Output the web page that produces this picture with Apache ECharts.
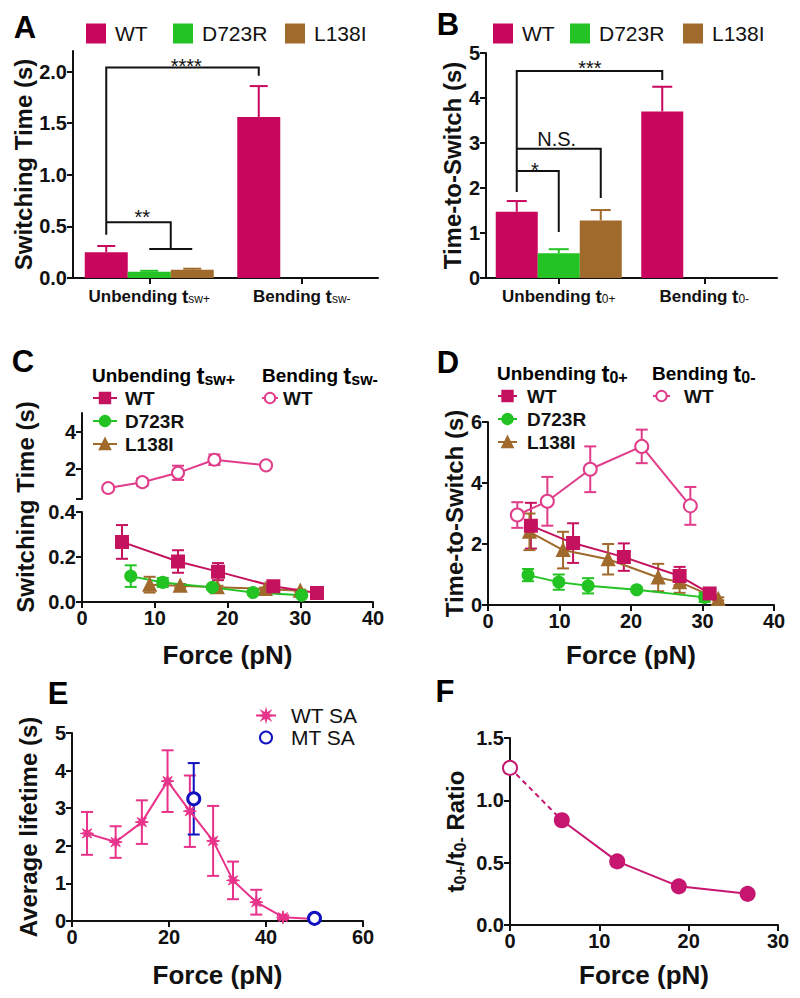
<!DOCTYPE html>
<html><head><meta charset="utf-8">
<script src="https://cdn.jsdelivr.net/npm/echarts@6/dist/echarts.min.js"></script>
<style>html,body{margin:0;padding:0;background:#fff}#c{width:800px;height:998px}</style>
</head><body><div id="c"></div>
<script>
// ===================== DATA =====================
// Panel A
const catsA = ['Unbending tsw+', 'Bending tsw-'];
const A_WT = [0.25, 1.56];
const A_WT_sem = [0.06, 0.30];
const A_D723R = [0.06, 0];
const A_D723R_sem = [0.01, 0];
const A_L138I = [0.08, 0];
const A_L138I_sem = [0.01, 0];
const A_yTicks = [0, 0.5, 1.0, 1.5, 2.0];
const A_sigText = ['****', '**'];
const A_sigLevels = [0.42, 2.04, 1.96, 0.54, 0.28]; // bracket heights (s)
// Panel B
const catsB = ['Unbending t0+', 'Bending t0-'];
const B_WT = [1.47, 3.70];
const B_WT_sem = [0.24, 0.55];
const B_D723R = [0.55, 0];
const B_D723R_sem = [0.09, 0];
const B_L138I = [1.28, 0];
const B_L138I_sem = [0.23, 0];
const B_sigText = ['***', 'N.S.', '*'];
const B_sigLevels = [1.91, 4.6, 4.4, 2.87, 1.78, 2.38, 1.02];
// Panel C (switching time vs force)
const C_bendWT_F = [3.6, 8.3, 13.2, 18.2, 25.3];
const C_bendWT = [0.99, 1.3, 1.8, 2.5, 2.2];
const C_bendWT_sem = [0.05, 0.2, 0.38, 0.28, 0.08];
const C_WT_F = [5.5, 13.2, 18.7, 26.3, 32.3];
const C_WT = [0.267, 0.18, 0.135, 0.07, 0.04];
const C_WT_sem = [0.075, 0.05, 0.038, 0.012, 0.008];
const C_D723R_F = [6.7, 11.1, 17.9, 23.5, 30.2];
const C_D723R = [0.115, 0.087, 0.065, 0.042, 0.03];
const C_D723R_sem = [0.048, 0.02, 0.006, 0.005, 0.005];
const C_L138I_F = [9.3, 13.5, 18.6, 25.2, 30.0];
const C_L138I = [0.077, 0.072, 0.066, 0.058, 0.05];
const C_L138I_sem = [0.035, 0.008, 0.006, 0.006, 0.005];
const C_upTicks = [2, 4];
// Panel D (time-to-switch vs force)
const D_bendWT_F = [4.1, 8.3, 14.3, 21.5, 28.3];
const D_bendWT = [2.95, 3.4, 4.45, 5.2, 3.25];
const D_bendWT_sem = [0.42, 0.8, 0.75, 0.55, 0.62];
const D_WT_F = [6.0, 11.9, 19.0, 26.8, 31.0];
const D_WT = [2.6, 2.03, 1.57, 0.95, 0.38];
const D_WT_sem = [0.75, 0.65, 0.45, 0.3, 0.08];
const D_D723R_F = [5.6, 9.9, 14.0, 20.8, 30.3];
const D_D723R = [0.98, 0.75, 0.63, 0.5, 0.25];
const D_D723R_sem = [0.2, 0.25, 0.25, 0.05, 0.15];
const D_L138I_F = [5.8, 10.5, 16.8, 23.8, 26.8, 32.2];
const D_L138I = [2.4, 1.8, 1.5, 0.9, 0.75, 0.2];
const D_L138I_sem = [0.6, 0.6, 0.5, 0.45, 0.35, 0.05];
// Panel E (average lifetime)
const E_WT_F = [3.1, 9.0, 14.4, 19.7, 24.3, 29.1, 33.2, 38.0, 43.5, 50.0];
const E_WT = [2.33, 2.1, 2.63, 3.72, 2.92, 2.13, 1.08, 0.5, 0.1, 0.05];
const E_WT_sem = [0.57, 0.42, 0.58, 0.82, 0.95, 0.93, 0.5, 0.33, 0.05, 0];
const E_MT_F = [25.1, 50.0];
const E_MT = [3.25, 0.07];
const E_MT_sem = [0.95, 0];
// Panel F (ratio)
const F_zero_F = [0, 5.8];
const F_zero = [1.26, 0.84];
const F_F = [5.8, 12.0, 18.9, 26.6];
const F_ratio = [0.84, 0.51, 0.31, 0.25];

// ===================== STYLE =====================
const FONT = "'Liberation Sans', Arial, Helvetica, sans-serif";
const INK = '#111111';
const cWTbar = '#C9065D', cGreen = '#22C322', cBrown = '#A06A2C';
const cWTline = '#C4125E', cBend = '#E03C8A', cE = '#E8338A', cBlue = '#1010C0', cF = '#C61670';

const axisBase = () => ({
  axisLine: {show: true, onZero: false, lineStyle: {color: INK, width: 2}},
  axisTick: {show: true, inside: false, length: 6, lineStyle: {color: INK, width: 2}},
  axisLabel: {color: INK, fontSize: 20, fontWeight: 'bold', fontFamily: FONT, margin: 6},
  splitLine: {show: false},
  nameTextStyle: {color: INK, fontSize: 24, fontWeight: 'bold', fontFamily: FONT},
});
function ax(o) {
  const b = axisBase();
  for (const k in o) {
    if (b[k] && typeof b[k] === 'object' && !Array.isArray(b[k]) && typeof o[k] === 'object') b[k] = Object.assign({}, b[k], o[k]);
    else b[k] = o[k];
  }
  return b;
}
const catFmt = v => { const i = v.lastIndexOf(' t'); return '{b|' + v.slice(0, i + 1) + '}{t|t}{s|' + v.slice(i + 2) + '}'; };
const catRich = {
  b: {fontSize: 17, fontWeight: 'bold', fontFamily: FONT, color: INK},
  t: {fontSize: 19, fontWeight: 'bold', fontFamily: FONT, color: INK},
  s: {fontSize: 12, fontWeight: 'normal', fontFamily: FONT, color: INK, padding: [5, 0, 0, 0]}
};
const fix1 = v => v.toFixed(1);

// ===================== SERIES HELPERS =====================
const pairs = (xs, ys) => xs.map((x, i) => [x, ys[i]]);
function errSeries(xi, yi, xs, ys, sem, color, cap) {
  return {
    type: 'custom', xAxisIndex: xi, yAxisIndex: yi, z: 1, silent: true,
    data: xs.map((x, i) => [x, ys[i], ys[i] - sem[i], ys[i] + sem[i]]).filter(d => d[3] > d[2]),
    encode: {x: 0, y: 1},
    renderItem(params, api) {
      const x = api.value(0);
      const lo = api.coord([x, api.value(2)]), hi = api.coord([x, api.value(3)]);
      const st = {stroke: color, lineWidth: 2};
      return {type: 'group', children: [
        {type: 'line', shape: {x1: lo[0], y1: lo[1], x2: hi[0], y2: hi[1]}, style: st},
        {type: 'line', shape: {x1: lo[0] - cap, y1: lo[1], x2: lo[0] + cap, y2: lo[1]}, style: st},
        {type: 'line', shape: {x1: hi[0] - cap, y1: hi[1], x2: hi[0] + cap, y2: hi[1]}, style: st}
      ]};
    }
  };
}
function barErr(xi, yi, vals, sem, slot, bw, color, cap) {
  return {
    type: 'custom', xAxisIndex: xi, yAxisIndex: yi, z: 1, silent: true,
    data: vals.map((v, i) => [i, v, v + sem[i]]).filter(d => d[1] > 0),
    encode: {x: 0, y: 1},
    renderItem(params, api) {
      const b = api.coord([api.value(0), api.value(1)]), t = api.coord([api.value(0), api.value(2)]);
      const x = b[0] + slot * bw;
      const st = {stroke: color, lineWidth: 2};
      return {type: 'group', children: [
        {type: 'line', shape: {x1: x, y1: b[1], x2: x, y2: t[1]}, style: st},
        {type: 'line', shape: {x1: x - cap, y1: t[1], x2: x + cap, y2: t[1]}, style: st}
      ]};
    }
  };
}
function bar(name, xi, yi, vals, color, bw) {
  return {type: 'bar', name, xAxisIndex: xi, yAxisIndex: yi, data: vals, barWidth: bw, barGap: '0%', z: 2,
    itemStyle: {color}, emphasis: {disabled: true}};
}
function line(name, xi, yi, xs, ys, color, symbol, size, extra) {
  return Object.assign({
    type: 'line', name, xAxisIndex: xi, yAxisIndex: yi, data: pairs(xs, ys),
    symbol, symbolSize: size, showSymbol: true, z: 3,
    lineStyle: {color, width: 2}, itemStyle: {color, borderColor: color, borderWidth: 2},
    emphasis: {disabled: true}
  }, extra || {});
}
// significance brackets: points [category, barSlot, value]
function sigSeries(xi, yi, bw, lines, labels) {
  return {
    type: 'custom', xAxisIndex: xi, yAxisIndex: yi, z: 4, silent: true, data: [[0, 0]],
    renderItem(params, api) {
      const pt = (c, s, v) => { const p = api.coord([c, v]); return [p[0] + s * bw, p[1]]; };
      const ch = lines.map(pl => ({type: 'polyline', shape: {points: pl.map(q => pt(q[0], q[1], q[2]))},
        style: {stroke: INK, lineWidth: 2, fill: null}}));
      labels.forEach(l => {
        const p = pt(l[1], l[2], l[3]);
        ch.push({type: 'text', x: p[0], y: p[1] + l[4], style: {text: l[0], fill: INK,
          font: 'normal ' + l[5] + 'px ' + FONT, align: 'center', verticalAlign: 'middle'}});
      });
      return {type: 'group', children: ch};
    }
  };
}
const A_lines = [
  [[0, -1, A_sigLevels[0]], [0, -1, A_sigLevels[1]], [1, -1, A_sigLevels[1]], [1, -1, A_sigLevels[2]]],
  [[0, -1, A_sigLevels[3]], [0, 0.5, A_sigLevels[3]], [0, 0.5, A_sigLevels[4]]],
  [[0, 0, A_sigLevels[4]], [0, 1, A_sigLevels[4]]]
];
const A_labels = [[A_sigText[0], 0, 0.86, A_sigLevels[1], -2, 20], [A_sigText[1], 0, -0.16, A_sigLevels[3], -5, 20]];
const B_lines = [
  [[0, -1, B_sigLevels[0]], [0, -1, B_sigLevels[1]], [1, -1, B_sigLevels[1]], [1, -1, B_sigLevels[2]]],
  [[0, -1, B_sigLevels[3]], [0, 1, B_sigLevels[3]], [0, 1, B_sigLevels[4]]],
  [[0, -1, B_sigLevels[5]], [0, 0, B_sigLevels[5]], [0, 0, B_sigLevels[6]]]
];
const B_labels = [[B_sigText[0], 0, 0.74, B_sigLevels[1], -3, 20], [B_sigText[1], 0, -0.05, B_sigLevels[3], -10, 20],
  [B_sigText[2], 0, -0.57, B_sigLevels[5], -1, 20]];

const STAR = 'path://M10,0 L3.7,1.53 L7.07,7.07 L1.53,3.7 L0,10 L-1.53,3.7 L-7.07,7.07 L-3.7,1.53 L-10,0 L-3.7,-1.53 L-7.07,-7.07 L-1.53,-3.7 L0,-10 L1.53,-3.7 L7.07,-7.07 L3.7,-1.53 Z';

// ===================== OPTION =====================
const legBase = {padding: 0, selectedMode: false, formatter: n => n.split('|')[1]};
function leg(o, ts) {
  return Object.assign({}, legBase, o, {textStyle: Object.assign({color: INK, fontFamily: FONT}, ts)});
}
const bigT = {fontSize: 24, fontWeight: 'bold', fontFamily: FONT, color: INK};
const titleRich = {
  a: {fontSize: 19, fontWeight: 'bold', fontFamily: FONT, color: INK},
  t: {fontSize: 24, fontWeight: 'bold', fontFamily: FONT, color: INK},
  s: {fontSize: 16, fontWeight: 'bold', fontFamily: FONT, color: INK, padding: [9, 0, 0, 0]}
};
const letter = (t, x, y) => ({type: 'text', x, y, style: {text: t, fill: '#000', font: 'bold 31px ' + FONT, align: 'center', verticalAlign: 'middle'}});
const ttl = (txt, x, y) => ({type: 'text', x, y, style: {text: txt, rich: titleRich, align: 'left', verticalAlign: 'middle'}});

const option = {
  animation: false,
  backgroundColor: '#fff',
  grid: [
    {left: 73, top: 51, width: 305, height: 227},
    {left: 486, top: 53, width: 291, height: 225},
    {left: 82, top: 413, width: 291, height: 86},
    {left: 82, top: 512, width: 291, height: 90},
    {left: 488, top: 422, width: 286, height: 183},
    {left: 72, top: 733, width: 291, height: 188},
    {left: 510, top: 738, width: 268, height: 187}
  ],
  xAxis: [
    ax({type: 'category', gridIndex: 0, data: catsA, axisTick: {alignWithLabel: true, interval: 0},
      axisLabel: {formatter: catFmt, rich: catRich, margin: 9, interval: 0, hideOverlap: false}}),
    ax({type: 'category', gridIndex: 1, data: catsB, axisTick: {alignWithLabel: true, interval: 0},
      axisLabel: {formatter: catFmt, rich: catRich, margin: 9, interval: 0, hideOverlap: false}}),
    ax({type: 'value', gridIndex: 2, min: 0, max: 40, show: false}),
    ax({type: 'value', gridIndex: 3, min: 0, max: 40, interval: 10, name: 'Force (pN)', nameLocation: 'middle', nameGap: 40,
      nameTextStyle: {fontSize: 26}}),
    ax({type: 'value', gridIndex: 4, min: 0, max: 40, interval: 10, name: 'Force (pN)', nameLocation: 'middle', nameGap: 37,
      nameTextStyle: {fontSize: 26}}),
    ax({type: 'value', gridIndex: 5, min: 0, max: 60, interval: 20, name: 'Force (pN)', nameLocation: 'middle', nameGap: 41,
      nameTextStyle: {fontSize: 26}}),
    ax({type: 'value', gridIndex: 6, min: 0, max: 30, interval: 10, name: 'Force (pN)', nameLocation: 'middle', nameGap: 37,
      nameTextStyle: {fontSize: 26}})
  ],
  yAxis: [
    ax({type: 'value', gridIndex: 0, min: 0, max: 2.2, axisLabel: {formatter: fix1, customValues: A_yTicks},
      axisTick: {customValues: A_yTicks}, name: 'Switching Time (s)', nameLocation: 'middle', nameGap: 31}),
    ax({type: 'value', gridIndex: 1, min: 0, max: 5, interval: 1, name: 'Time-to-Switch (s)', nameLocation: 'middle', nameGap: 20}),
    ax({type: 'value', gridIndex: 2, min: 0.4, max: 5, axisLabel: {customValues: C_upTicks}, axisTick: {customValues: [0.4].concat(C_upTicks)}}),
    ax({type: 'value', gridIndex: 3, min: 0, max: 0.4, interval: 0.2, axisLabel: {formatter: fix1}}),
    ax({type: 'value', gridIndex: 4, min: 0, max: 6, interval: 2, name: 'Time-to-Switch (s)', nameLocation: 'middle', nameGap: 21}),
    ax({type: 'value', gridIndex: 5, min: 0, max: 5, interval: 1, name: 'Average lifetime (s)', nameLocation: 'middle', nameGap: 32}),
    ax({type: 'value', gridIndex: 6, min: 0, max: 1.5, interval: 0.5, axisLabel: {formatter: fix1},
      name: '{t|t}{s|0+}{t|/t}{s|0-}{t| Ratio}', nameLocation: 'middle', nameGap: 42,
      nameTextStyle: {rich: {t: bigT, s: {fontSize: 16, fontWeight: 'bold', fontFamily: FONT, color: INK, padding: [10, 0, 0, 0]}}}})
  ],
  legend: [
    leg({data: ['A|WT'], left: 86, top: 23, icon: 'rect', itemWidth: 20, itemHeight: 20}, {fontSize: 21, padding: [0, 0, 0, 4]}),
    leg({data: ['A|D723R'], left: 173, top: 23, icon: 'rect', itemWidth: 20, itemHeight: 20}, {fontSize: 21, padding: [0, 0, 0, 4]}),
    leg({data: ['A|L138I'], left: 285, top: 23, icon: 'rect', itemWidth: 20, itemHeight: 20}, {fontSize: 21, padding: [0, 0, 0, 4]}),
    leg({data: ['B|WT'], left: 493, top: 23, icon: 'rect', itemWidth: 20, itemHeight: 20}, {fontSize: 21, padding: [0, 0, 0, 4]}),
    leg({data: ['B|D723R'], left: 570, top: 23, icon: 'rect', itemWidth: 20, itemHeight: 20}, {fontSize: 21, padding: [0, 0, 0, 4]}),
    leg({data: ['B|L138I'], left: 683, top: 23, icon: 'rect', itemWidth: 20, itemHeight: 20}, {fontSize: 21, padding: [0, 0, 0, 4]}),
    leg({data: ['CL|WT', 'CL|D723R', 'CL|L138I'], orient: 'vertical', left: 92, top: 388, itemGap: 3, itemWidth: 24, itemHeight: 13},
      {fontSize: 19, fontWeight: 'bold', lineHeight: 20, padding: [0, 0, 0, 3]}),
    leg({data: ['CU|WT'], orient: 'vertical', left: 261, top: 388, itemWidth: 16, itemHeight: 13},
      {fontSize: 19, fontWeight: 'bold', lineHeight: 20, padding: [0, 0, 0, 0]}),
    leg({data: ['DU|WT', 'DU|D723R', 'DU|L138I'], orient: 'vertical', left: 497, top: 386, itemGap: 3, itemWidth: 19, itemHeight: 13},
      {fontSize: 19, fontWeight: 'bold', lineHeight: 20, padding: [0, 0, 0, 5]}),
    leg({data: ['DB|WT'], orient: 'vertical', left: 652, top: 386, itemWidth: 17, itemHeight: 13},
      {fontSize: 19, fontWeight: 'bold', lineHeight: 20, padding: [0, 0, 0, 9]}),
    leg({data: ['E|WT SA', 'E|MT SA'], orient: 'vertical', left: 255, top: 705, itemGap: 1, itemWidth: 20, itemHeight: 12},
      {fontSize: 21, lineHeight: 21, padding: [0, 0, 0, 10]})
  ],
  graphic: [
    letter('A', 25, 27), letter('B', 448, 24), letter('C', 23, 361), letter('D', 448, 362), letter('E', 58, 693), letter('F', 445, 691),
    ttl('{a|Unbending }{t|t}{s|sw+}', 92, 375), ttl('{a|Bending }{t|t}{s|sw-}', 262, 375),
    ttl('{a|Unbending }{t|t}{s|0+}', 497, 373), ttl('{a|Bending }{t|t}{s|0-}', 652, 373),
    {type: 'text', x: 25, y: 507, rotation: Math.PI / 2, style: {text: 'Switching Time (s)', fill: INK, font: 'bold 24px ' + FONT, align: 'center', verticalAlign: 'middle'}}
  ],
  series: [
    // A
    bar('A|WT', 0, 0, A_WT, cWTbar, 43), bar('A|D723R', 0, 0, A_D723R, cGreen, 43), bar('A|L138I', 0, 0, A_L138I, cBrown, 43),
    barErr(0, 0, A_WT, A_WT_sem, -1, 43, cWTbar, 9), barErr(0, 0, A_D723R, A_D723R_sem, 0, 43, cGreen, 9), barErr(0, 0, A_L138I, A_L138I_sem, 1, 43, cBrown, 9),
    sigSeries(0, 0, 43, A_lines, A_labels),
    // B
    bar('B|WT', 1, 1, B_WT, cWTbar, 42), bar('B|D723R', 1, 1, B_D723R, cGreen, 42), bar('B|L138I', 1, 1, B_L138I, cBrown, 42),
    barErr(1, 1, B_WT, B_WT_sem, -1, 42, cWTbar, 10), barErr(1, 1, B_D723R, B_D723R_sem, 0, 42, cGreen, 10), barErr(1, 1, B_L138I, B_L138I_sem, 1, 42, cBrown, 10),
    sigSeries(1, 1, 42, B_lines, B_labels),
    // C
    errSeries(2, 2, C_bendWT_F, C_bendWT, C_bendWT_sem, cBend, 6),
    line('CU|WT', 2, 2, C_bendWT_F, C_bendWT, cBend, 'emptyCircle', 12),
    errSeries(3, 3, C_WT_F, C_WT, C_WT_sem, cWTline, 6),
    errSeries(3, 3, C_D723R_F, C_D723R, C_D723R_sem, cGreen, 6),
    errSeries(3, 3, C_L138I_F, C_L138I, C_L138I_sem, cBrown, 6),
    line('CL|L138I', 3, 3, C_L138I_F, C_L138I, cBrown, 'triangle', 12),
    line('CL|D723R', 3, 3, C_D723R_F, C_D723R, cGreen, 'circle', 11),
    line('CL|WT', 3, 3, C_WT_F, C_WT, cWTline, 'rect', 12),
    // D
    errSeries(4, 4, D_bendWT_F, D_bendWT, D_bendWT_sem, cBend, 6),
    errSeries(4, 4, D_WT_F, D_WT, D_WT_sem, cWTline, 6),
    errSeries(4, 4, D_D723R_F, D_D723R, D_D723R_sem, cGreen, 6),
    errSeries(4, 4, D_L138I_F, D_L138I, D_L138I_sem, cBrown, 6),
    line('DB|WT', 4, 4, D_bendWT_F, D_bendWT, cBend, 'emptyCircle', 13),
    line('DU|L138I', 4, 4, D_L138I_F, D_L138I, cBrown, 'triangle', 12),
    line('DU|D723R', 4, 4, D_D723R_F, D_D723R, cGreen, 'circle', 11),
    line('DU|WT', 4, 4, D_WT_F, D_WT, cWTline, 'rect', 12),
    // E
    errSeries(5, 5, E_WT_F, E_WT, E_WT_sem, cE, 6),
    errSeries(5, 5, E_MT_F, E_MT, E_MT_sem, cBlue, 6),
    line('E|WT SA', 5, 5, E_WT_F, E_WT, cE, STAR, 13, {itemStyle: {color: cE, borderColor: cE, borderWidth: 1}}),
    {type: 'scatter', name: 'E|MT SA', xAxisIndex: 5, yAxisIndex: 5, data: pairs(E_MT_F, E_MT), symbol: 'circle', symbolSize: 12, z: 4,
      itemStyle: {color: '#ffffff', borderColor: cBlue, borderWidth: 3, opacity: 1}, emphasis: {disabled: true}},
    // F
    line('F|zero', 6, 6, F_zero_F, F_zero, cF, (v, p) => p.dataIndex === 0 ? 'emptyCircle' : 'none', 14,
      {lineStyle: {color: cF, width: 2, type: [5, 4]}}),
    line('F|ratio', 6, 6, F_F, F_ratio, cF, 'circle', 14)
  ]
};

const chart = echarts.init(document.getElementById('c'), null, {renderer: 'svg', width: 800, height: 998});
chart.setOption(option);
</script>
</body></html>
